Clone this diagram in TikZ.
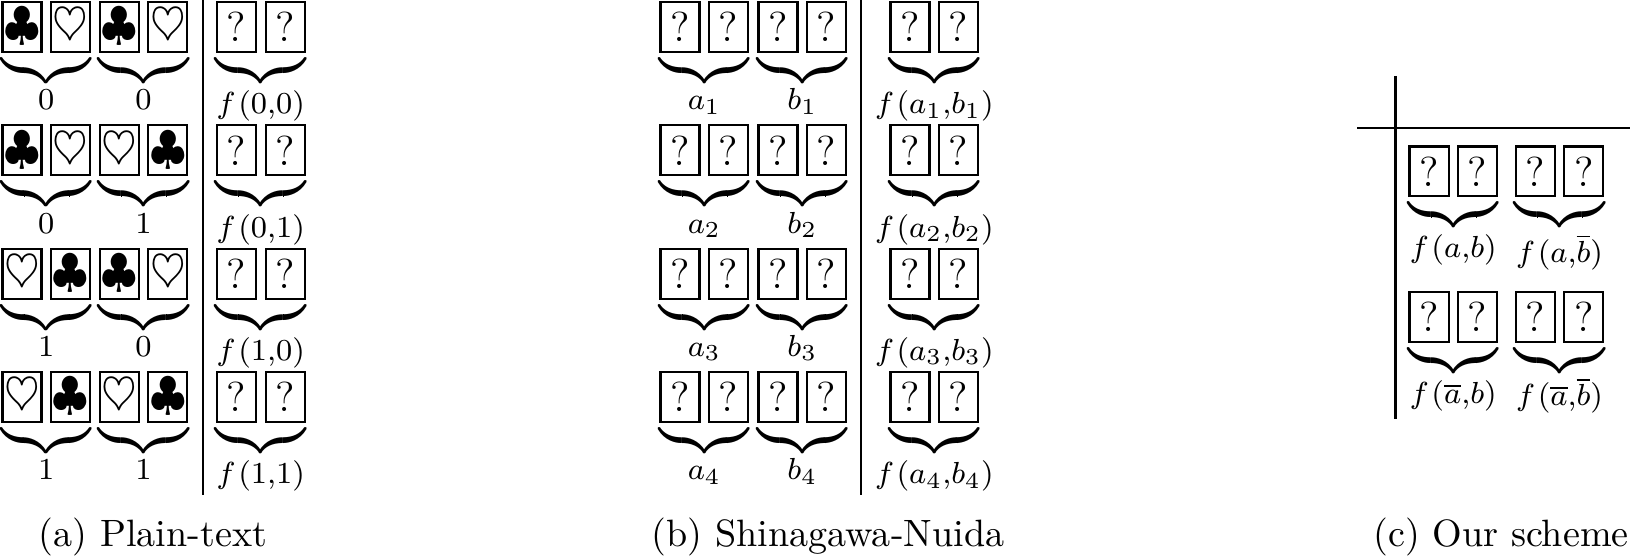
\documentclass[tikz,border=0pt]{standalone}
\usepackage{amsmath,amssymb}
\usepackage{graphicx}
\usepackage{tikz}
\usetikzlibrary{positioning,calc}

\newcommand{\cl}{\large$\clubsuit$}
\newcommand{\he}{\large$\heartsuit$}
\newcommand{\qm}{\fontsize{11}{13}\selectfont ?}
\newcommand{\fn}{f\mkern1.5mu}
% name, x of left card, y of cards, left face, right face, label, drop of label
\newcommand{\cardpair}[7]{
    \node[card] (#1l) at (#2,#3) {#4};
    \node[card, right=1.95pt of #1l] (#1r) {#5};
    \node[bracemark] (#1b) at ($(#1l.south)!.5!(#1r.south)+(0,17.5)$) {\scalebox{1.3}[1.25]{$\underbrace{\hspace{18.1pt}}$}};
    \node[cardlabel] (#1t) at ($(#1l.center)!.5!(#1r.center)+(0,#7)$) {#6};
}

\begin{document}
\begin{tikzpicture}[
    x=0.2625pt, y=-0.2625pt,
    card/.style={draw, line width=.55pt, minimum width=10.25pt, minimum height=13.1pt, inner sep=0pt, outer sep=.275pt},
    bracemark/.style={inner sep=0pt},
    cardlabel/.style={font=\footnotesize, anchor=base, inner sep=0pt},
    caption/.style={anchor=base, inner sep=0pt},
    rule/.style={line width=.6pt}
  ]
    \useasboundingbox (0,0) rectangle (1630,556);

    % plain-text
    \foreach \i/\yy/\ca/\cb/\cc/\cd/\va/\vb in {1/27/\cl/\he/\cl/\he/0/0, 2/150.3/\cl/\he/\he/\cl/0/1, 3/273.7/\he/\cl/\cl/\he/1/0, 4/397/\he/\cl/\he/\cl/1/1} {
      \cardpair{pa\i}{22}{\yy}{\ca}{\cb}{\va}{83}
      \cardpair{pb\i}{119.3}{\yy}{\cc}{\cd}{\vb}{83}
      \cardpair{pf\i}{236.5}{\yy}{\qm}{\qm}{$\fn(\va{,}\vb)$}{87}
    }
    \coordinate (ptop) at (203,0);
    \coordinate (pbot) at (203,495);
    \draw[rule] (ptop) -- (pbot);
    \node[caption] (pcap) at (153,547) {(a) Plain-text};

    % shinagawa-nuida
    \foreach \i/\yy in {1/27, 2/150.3, 3/273.7, 4/397} {
      \cardpair{sa\i}{680}{\yy}{\qm}{\qm}{$a_\i$}{83}
      \cardpair{sb\i}{778}{\yy}{\qm}{\qm}{$b_\i$}{83}
      \cardpair{sf\i}{910}{\yy}{\qm}{\qm}{$\fn(a_\i{,}b_\i)$}{87}
    }
    \coordinate (stop) at (861,0);
    \coordinate (sbot) at (861,495);
    \draw[rule] (stop) -- (sbot);
    \node[caption] (scap) at (828,547) {(b) Shinagawa-Nuida};

    % our scheme
    \cardpair{oa}{1429}{171.5}{\qm}{\qm}{$\fn(a{,}b)$}{86}
    \cardpair{ob}{1535.3}{171.5}{\qm}{\qm}{$\fn(a{,}\overline{b})$}{91}
    \cardpair{oc}{1429}{317}{\qm}{\qm}{$\fn(\overline{a}{,}b)$}{87}
    \cardpair{od}{1535.3}{317}{\qm}{\qm}{$\fn(\overline{a}{,}\overline{b})$}{89}
    \coordinate (otop) at (1395.5,76);
    \coordinate (obot) at (1395.5,419);
    \coordinate (oleft) at (1357,128);
    \coordinate (oright) at (1630,128);
    \draw[rule] (otop) -- (obot);
    \draw[rule] (oleft) -- (oright);
    \node[caption] (ocap) at (1501,547) {(c) Our scheme};
  \end{tikzpicture}
\end{document}
